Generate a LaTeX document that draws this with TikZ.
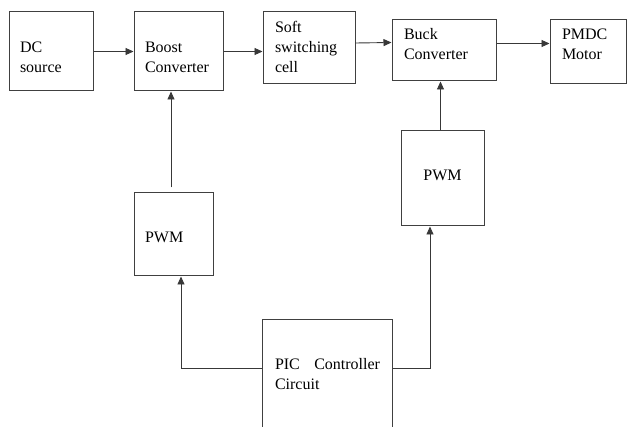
\documentclass[tikz,border=0pt]{standalone}
\usepackage{fontspec}
\setmainfont{Liberation Serif}
\newfontfamily\blockfont{Liberation Serif}
\usetikzlibrary{arrows.meta,positioning}
\tikzset{
  block/.style={draw=black!75, line width=1pt, align=left, inner xsep=11pt, text height=0pt, text depth=0pt, font=\blockfont\fontsize{16}{20}\selectfont},
  arr/.style={draw=black!78, line width=0.9pt, -{Triangle[length=8pt,width=7pt]}},
}
\begin{document}
\begin{tikzpicture}[x=1pt,y=1pt]
	\useasboundingbox (0,0) rectangle (627,-427);
	% top row
	\node[block, minimum width=84pt, minimum height=79pt, text width=62pt, text height=3pt] (dc) at (51,-51.5) {DC\\source};
	\node[block, minimum width=89pt, minimum height=79pt, text width=67pt, text height=3pt] (boost) at (178.5,-51.5) {Boost\\Converter};
	\node[block, minimum width=92pt, minimum height=72pt, text width=68pt, inner xsep=12pt, text depth=30pt] (soft) at (309,-48) {Soft\\switching\\cell};
	\node[block, minimum width=104pt, minimum height=61pt, text width=80pt, inner xsep=12pt, text depth=21pt] (buck) at (444,-50.5) {Buck\\Converter};
	\node[block, minimum width=76pt, minimum height=64pt, text width=52pt, inner xsep=12pt, text depth=24pt] (pmdc) at (588,-52) {PMDC\\Motor};
	% pwm blocks
	\node[block, minimum width=79pt, minimum height=83pt, text width=57pt, text height=17pt] (pwmA) at (173.5,-234.5) {PWM};
	\node[block, minimum width=83pt, minimum height=95pt, text width=61pt, align=center, text height=5pt] (pwmB) at (442.5,-178.5) {PWM};
	% controller
	\node[block, minimum width=130pt, minimum height=140pt, text width=104pt, inner xsep=13pt, text depth=40pt, anchor=north] (pic) at (327,-319) {\mbox{PIC\hspace{0.9em}Controller}\\Circuit};
	% power path
	\draw[arr] (dc) -- (boost);
	\draw[arr] (boost.east) -- (boost.east -| soft.west);
	\draw[arr] ([yshift=5pt]soft.east) -- ([yshift=8pt]buck.west);
	\draw[arr] ([yshift=7pt]buck.east) -- ([yshift=7pt]buck.east -| pmdc.west);
	% pwm to converters
	\coordinate (tapA) at ([xshift=-2.5pt,yshift=5pt]pwmA.north);
	\draw[arr] (tapA) -- (tapA |- boost.south);
	\draw[arr] ([xshift=-2pt]pwmB.north) -- ([xshift=-2pt]pwmB.north |- buck.south);
	% controller outputs
	\coordinate (picL) at ([yshift=-49pt]pic.north west);
	\coordinate (picR) at ([yshift=-49pt]pic.north east);
	\draw[arr] (picL) -| ([xshift=7.5pt]pwmA.south);
	\draw[arr] (picR) -| ([xshift=-12.5pt]pwmB.south);
\end{tikzpicture}
\end{document}
